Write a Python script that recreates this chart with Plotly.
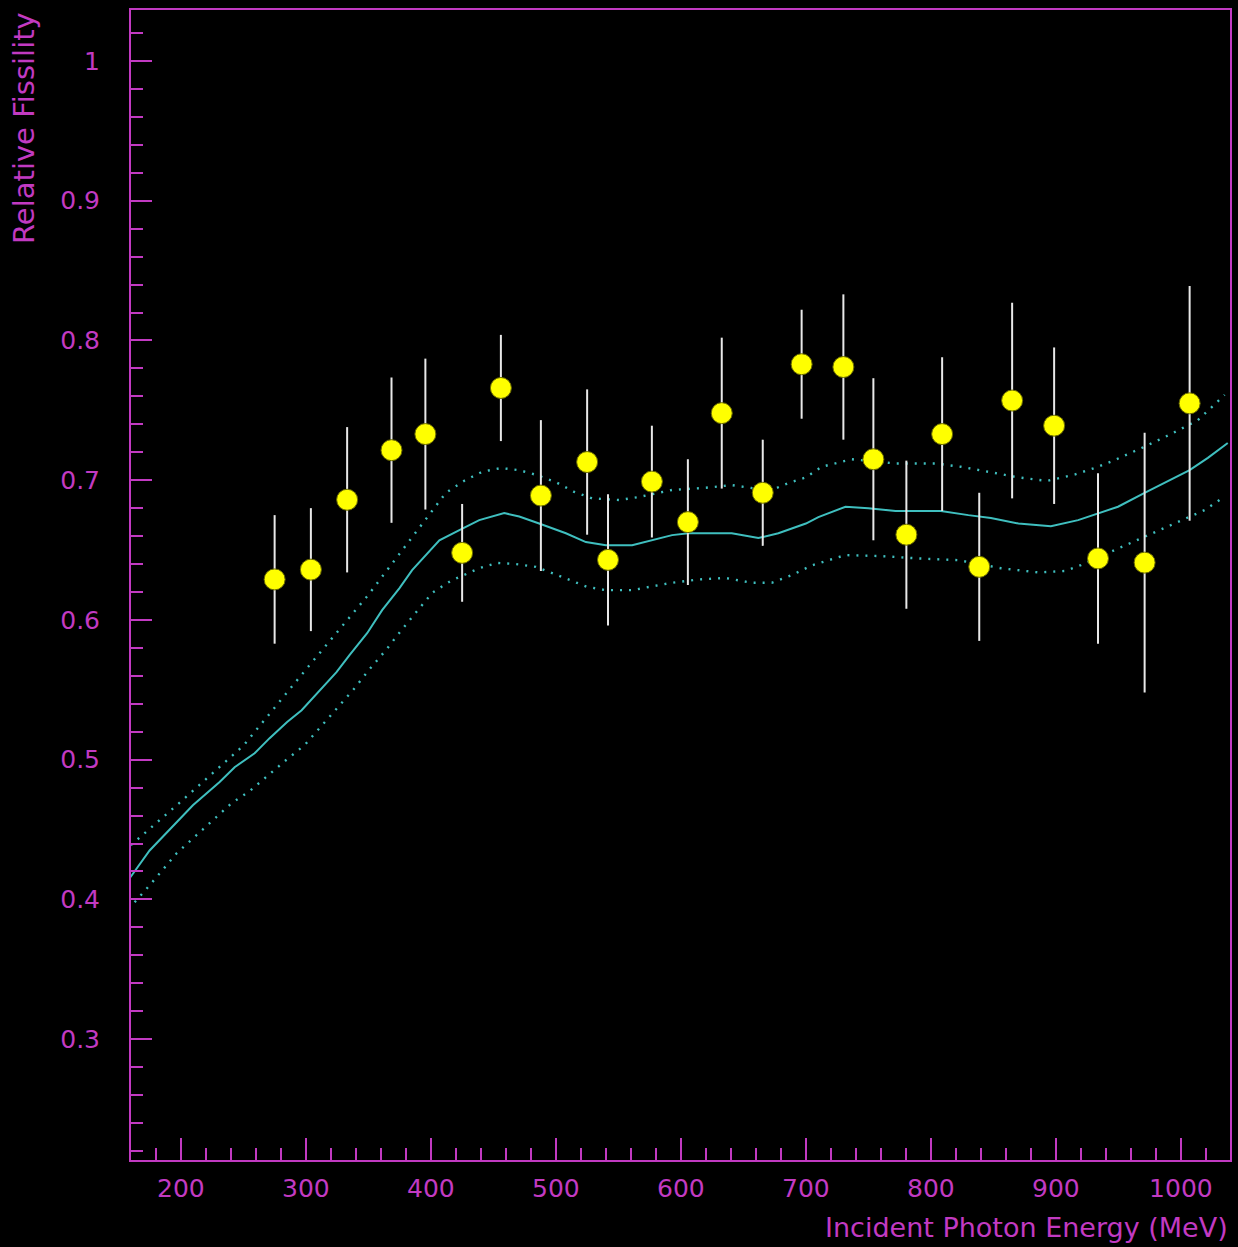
import plotly.graph_objects as go

# ---- data points ----
energy = [275, 304, 333, 368.5, 395.6, 425, 456, 488, 525, 541.7, 576.8, 605.6, 632.7,
          665.5, 696.6, 730, 754, 780.4, 809, 838.7, 865, 898.6, 933.7, 971, 1007]
fissility = [0.629, 0.636, 0.686, 0.7215, 0.733, 0.648, 0.766, 0.689, 0.713, 0.643, 0.699,
             0.670, 0.748, 0.691, 0.783, 0.781, 0.715, 0.661, 0.733, 0.638, 0.757, 0.739,
             0.644, 0.641, 0.755]
error = [0.046, 0.044, 0.052, 0.052, 0.054, 0.035, 0.038, 0.054, 0.052, 0.047, 0.040,
         0.045, 0.054, 0.038, 0.039, 0.052, 0.058, 0.053, 0.055, 0.053, 0.070, 0.056,
         0.061, 0.093, 0.084]

# ---- central curve ----
curve_e = [159.3, 175, 209.6, 231, 243, 259, 271, 285, 296.6, 305.4, 324.5, 334.9, 349, 361,
           374.9, 385, 406.8, 422.8, 438.7, 458.7, 470.7, 486.6, 508, 524, 540, 561, 577,
           593, 606, 640.7, 662, 678, 700, 710, 731.7, 750, 771.7, 808, 830, 848, 870, 896,
           917.8, 936, 949.7, 971, 1007, 1021.6, 1037.5]
curve_v = [0.4155, 0.435, 0.4674, 0.484, 0.4946, 0.5046, 0.5154, 0.527, 0.5354, 0.544, 0.5626,
           0.5748, 0.5905, 0.607, 0.6228, 0.6356, 0.657, 0.6643, 0.6714, 0.6765, 0.674, 0.669,
           0.662, 0.6557, 0.6535, 0.6535, 0.657, 0.6607, 0.662, 0.662, 0.6586, 0.662, 0.669,
           0.6736, 0.681, 0.680, 0.678, 0.678, 0.675, 0.673, 0.669, 0.667, 0.6714, 0.6772,
           0.681, 0.691, 0.7072, 0.716, 0.7266]

# ---- upper band ----
upper_e = [160, 200, 250, 300, 350, 390, 412, 426.7, 441, 456, 470.7, 485, 500, 514.6, 529,
           550.5, 566.5, 593, 620, 640.7, 656.7, 672.7, 686, 700, 712.6, 736.5, 771.7, 803.6,
           824, 846, 870, 893, 915, 933.7, 947, 971, 992, 1013.6, 1035]
upper_v = [0.4388, 0.470, 0.510, 0.5645, 0.618, 0.665, 0.691, 0.6996, 0.706, 0.7087, 0.7072,
           0.7036, 0.6986, 0.6917, 0.687, 0.6858, 0.688, 0.693, 0.6946, 0.6965, 0.6944, 0.693,
           0.698, 0.702, 0.7096, 0.715, 0.712, 0.712, 0.7096, 0.706, 0.702, 0.6995, 0.704,
           0.7096, 0.7144, 0.724, 0.733, 0.743, 0.761]

# ---- lower band ----
lower_e = [163, 176.6, 196.6, 211, 225.5, 240.5, 255, 269.6, 284, 299, 312, 325.5, 339, 351,
           364, 376, 388, 401, 416, 438.7, 453, 468, 484, 497, 510.6, 525, 540, 561, 577, 593,
           614, 636, 656.7, 672.7, 688.6, 704.6, 731.5, 760.5, 790, 822, 856, 886, 907, 920,
           947, 973.7, 995, 1019, 1032]
lower_v = [0.398, 0.4118, 0.433, 0.4447, 0.4567, 0.4688, 0.4775, 0.4889, 0.4996, 0.5104,
           0.5235, 0.5373, 0.5512, 0.5648, 0.5784, 0.5922, 0.6056, 0.6194, 0.628, 0.637,
           0.6408, 0.640, 0.638, 0.6335, 0.6285, 0.6237, 0.6213, 0.6213, 0.624, 0.6266, 0.629,
           0.630, 0.6266, 0.6266, 0.632, 0.639, 0.6464, 0.6457, 0.644, 0.6428, 0.637, 0.634,
           0.635, 0.6392, 0.650, 0.6607, 0.669, 0.6786, 0.6865]

x_ticks = [200, 300, 400, 500, 600, 700, 800, 900, 1000]
y_ticks = [0.3, 0.4, 0.5, 0.6, 0.7, 0.8, 0.9, 1.0]
y_labels = ["0.3", "0.4", "0.5", "0.6", "0.7", "0.8", "0.9", "1"]

MAG = "#c23ac2"
CYAN = "#3fbfbf"
FONT = "DejaVu Sans"

fig = go.Figure()
fig.add_trace(go.Scatter(x=upper_e, y=upper_v, mode="lines",
                         line=dict(color=CYAN, width=2.4, dash="2px,7px"), hoverinfo="skip"))
fig.add_trace(go.Scatter(x=lower_e, y=lower_v, mode="lines",
                         line=dict(color=CYAN, width=2.4, dash="2px,7px"), hoverinfo="skip"))
fig.add_trace(go.Scatter(x=curve_e, y=curve_v, mode="lines",
                         line=dict(color=CYAN, width=2), hoverinfo="skip"))
fig.add_trace(go.Scatter(
    x=energy, y=fissility, mode="markers",
    marker=dict(symbol="circle", size=21, color="#ffff00", line=dict(color="#6b6b00", width=1)),
    error_y=dict(type="data", array=error, visible=True, color="#e8e8e8", thickness=2, width=0),
))

fig.update_layout(
    width=1238, height=1247,
    paper_bgcolor="black", plot_bgcolor="black",
    margin=dict(l=131, r=6, t=10, b=87),
    showlegend=False,
    font=dict(family=FONT, color=MAG, size=25),
    xaxis=dict(
        range=[160.1, 1039.3], showgrid=False, zeroline=False,
        showline=True, linecolor=MAG, linewidth=2, mirror=True,
        ticks="inside", ticklen=22, tickwidth=2, tickcolor=MAG,
        tickvals=x_ticks, ticktext=[str(v) for v in x_ticks],
        tickfont=dict(family=FONT, color=MAG, size=25),
        minor=dict(ticks="inside", ticklen=12, tickwidth=2, tickcolor=MAG, dtick=20, tick0=0, showgrid=False),
        ticklabelstandoff=5,
    ),
    yaxis=dict(
        range=[0.2135, 1.0365], showgrid=False, zeroline=False,
        showline=True, linecolor=MAG, linewidth=2, mirror=True,
        ticks="inside", ticklen=21, tickwidth=2, tickcolor=MAG,
        tickvals=y_ticks, ticktext=y_labels,
        tickfont=dict(family=FONT, color=MAG, size=25),
        minor=dict(ticks="inside", ticklen=12, tickwidth=2, tickcolor=MAG, dtick=0.02, tick0=0, showgrid=False),
        ticklabelstandoff=24,
    ),
    annotations=[
        dict(text="Incident Photon Energy (MeV)", xref="paper", yref="paper",
             x=1.0, y=0, xanchor="right", yanchor="top", yshift=-50, showarrow=False,
             font=dict(family=FONT, color=MAG, size=27)),
        dict(text="Relative Fissility", xref="paper", yref="paper",
             x=0, y=1.0, xanchor="right", yanchor="top", xshift=-88, showarrow=False,
             textangle=-90, font=dict(family=FONT, color=MAG, size=29)),
    ],
)

fig.write_html("out.html", config={"displayModeBar": False},
               post_script="document.body.style.margin='0';document.body.style.background='black';")
